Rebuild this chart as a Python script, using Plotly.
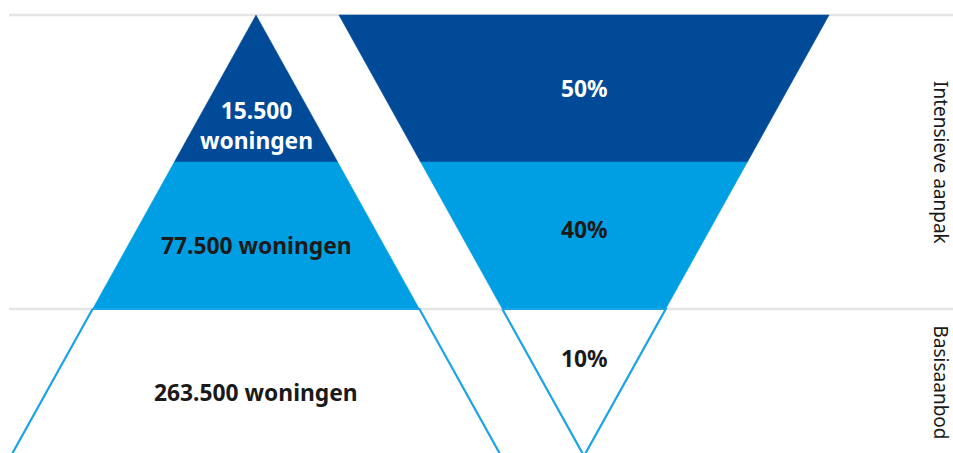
import plotly.graph_objects as go

# ---- data ----
tiers = ["top", "middle", "bottom"]            # tier index 2, 1, 0 (from top)
tier_low = [2, 1, 0]                            # lower bound of each tier (in tier units)
left_labels = ["15.500<br>woningen", "77.500 woningen", "263.500 woningen"]
right_labels = ["50%", "40%", "10%"]
group_labels = ["Intensieve aanpak", "Basisaanbod"]
group_centers = [2, 0.5]

# ---- styling / geometry ----
fills = ["#004a98", "#009fe3", "#ffffff"]
outline = "#1aa3e6"
text_colors = ["white", "#1a1a1a", "#1a1a1a"]
left_cx, right_cx = 256, 584
slope = 81.7            # half-width (px) per tier unit
left_label_y = [2.245, 1.435, 0.43]
right_label_y = [2.497, 1.544, 0.66]
FONT = "Noto Sans"

fig = go.Figure()

# gray reference lines
for yv in [3, 1]:
    fig.add_shape(type="line", x0=9, x1=953, y0=yv, y1=yv, xref="x", yref="y",
                  line=dict(color="#e5e5e5", width=2.5), layer="below")


def left_hw(y):
    return (3 - y) * slope


def right_hw(y):
    return y * slope


for i, lo in enumerate(tier_low):
    hi = lo + 1
    is_white = fills[i] == "#ffffff"
    ys = [hi, hi, lo, lo, hi]
    # left pyramid (apex at top)
    xs = [left_cx - left_hw(hi), left_cx + left_hw(hi), left_cx + left_hw(lo), left_cx - left_hw(lo), left_cx - left_hw(hi)]
    fig.add_trace(go.Scatter(x=xs, y=ys, fill="toself", fillcolor=fills[i], mode="lines",
                             line=dict(color=outline if is_white else fills[i], width=2.2 if is_white else 0.5),
                             hoverinfo="skip", showlegend=False))
    # right inverted pyramid (apex at bottom)
    xs = [right_cx - right_hw(hi), right_cx + right_hw(hi), right_cx + right_hw(lo), right_cx - right_hw(lo), right_cx - right_hw(hi)]
    fig.add_trace(go.Scatter(x=xs, y=ys, fill="toself", fillcolor=fills[i], mode="lines",
                             line=dict(color=outline if is_white else fills[i], width=2.2 if is_white else 0.5),
                             hoverinfo="skip", showlegend=False))

for i in range(3):
    fig.add_annotation(x=left_cx, y=left_label_y[i], text="<b>" + left_labels[i] + "</b>", showarrow=False,
                       font=dict(family=FONT, size=22.8, color=text_colors[i]), xref="x", yref="y")
    fig.add_annotation(x=right_cx, y=right_label_y[i], text="<b>" + right_labels[i] + "</b>", showarrow=False,
                       font=dict(family=FONT, size=22.8, color=text_colors[i]), xref="x", yref="y")

for lab, yc in zip(group_labels, group_centers):
    fig.add_annotation(x=941, y=yc, text=lab, textangle=90, showarrow=False, borderpad=0,
                       font=dict(family=FONT, size=19, color="#1a1a1a"), xref="x", yref="y")

fig.update_layout(
    width=953, height=453,
    margin=dict(l=0, r=0, t=0, b=0),
    paper_bgcolor="white", plot_bgcolor="white",
    xaxis=dict(range=[0, 953], visible=False, fixedrange=True),
    yaxis=dict(range=[0.0204, 3.102], visible=False, fixedrange=True),
    showlegend=False,
)

fig.write_html("out.html", config={"displayModeBar": False},
               post_script="document.body.style.margin='0';document.body.style.overflow='hidden';")
